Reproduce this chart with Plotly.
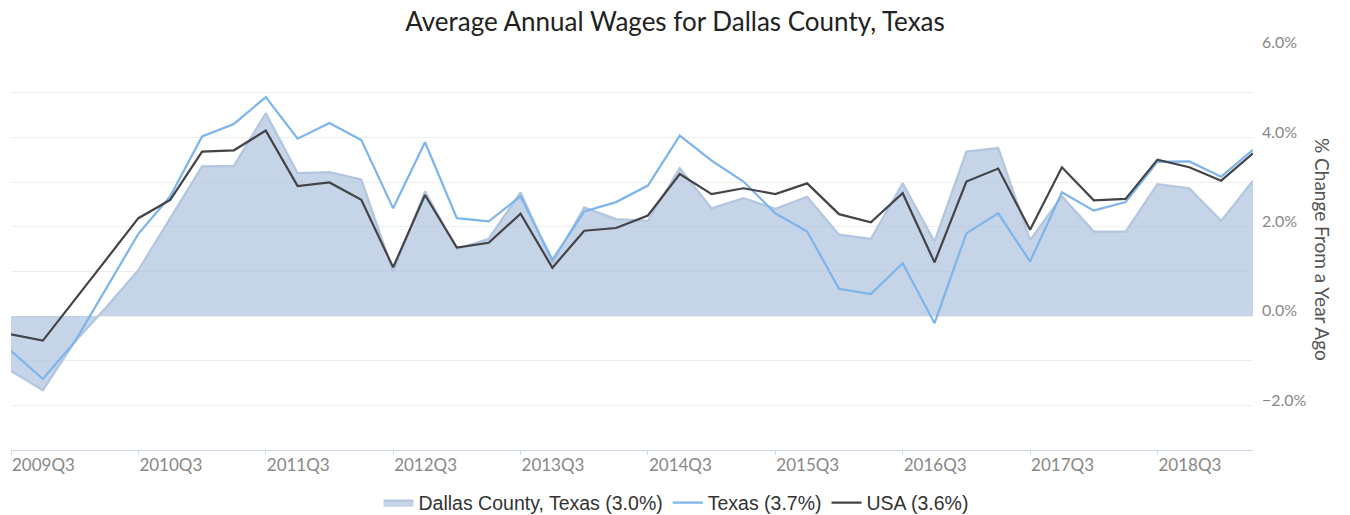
import plotly.graph_objects as go

quarters = []
for y in range(2009, 2020):
    for q in range(1, 5):
        lab = f"{y}Q{q}"
        if (y == 2009 and q < 3) or (y == 2019 and q > 2):
            continue
        quarters.append(lab)

dallas = [-1.23, -1.66, -0.58, 0.20, 1.03, 2.19, 3.35, 3.36, 4.54, 3.20,
          3.22, 3.06, 0.99, 2.79, 1.50, 1.73, 2.77, 1.18, 2.43, 2.17,
          2.13, 3.31, 2.41, 2.64, 2.40, 2.67, 1.82, 1.73, 2.97, 1.67,
          3.68, 3.76, 1.70, 2.68, 1.89, 1.89, 2.95, 2.86, 2.13, 3.03]
texas = [-0.78, -1.41, -0.58, 0.64, 1.84, 2.68, 4.02, 4.30, 4.90, 3.97,
         4.32, 3.94, 2.41, 3.89, 2.19, 2.12, 2.68, 1.26, 2.34, 2.55,
         2.92, 4.04, 3.48, 3.01, 2.30, 1.89, 0.61, 0.49, 1.18, -0.16,
         1.85, 2.30, 1.22, 2.77, 2.36, 2.55, 3.45, 3.46, 3.12, 3.72]
usa = [-0.41, -0.55, 0.36, 1.27, 2.19, 2.60, 3.68, 3.71, 4.15, 2.91,
       2.99, 2.60, 1.09, 2.71, 1.53, 1.64, 2.29, 1.08, 1.91, 1.97,
       2.25, 3.18, 2.73, 2.86, 2.73, 2.97, 2.28, 2.10, 2.75, 1.20,
       3.01, 3.30, 1.93, 3.33, 2.59, 2.62, 3.50, 3.33, 3.03, 3.64]

tick_labels = [q for q in quarters if q.endswith("Q3")]
names = ["Dallas County, Texas (3.0%)", "Texas (3.7%)", "USA (3.6%)"]

fig = go.Figure()
fig.add_trace(go.Scatter(x=quarters, y=dallas, name=names[0], mode="lines",
                         fill="tozeroy", fillcolor="rgba(176,196,222,0.72)",
                         line=dict(color="rgba(176,196,222,0.95)", width=2.2)))
fig.add_trace(go.Scatter(x=quarters, y=texas, name=names[1], mode="lines",
                         line=dict(color="#7cb5ec", width=2.2)))
fig.add_trace(go.Scatter(x=quarters, y=usa, name=names[2], mode="lines",
                         line=dict(color="#434348", width=2.2)))

fig.update_layout(
    width=1350, height=515,
    margin=dict(l=11, r=97, t=48, b=65, autoexpand=False),
    paper_bgcolor="white", plot_bgcolor="white",
    title=dict(text="Average Annual Wages for Dallas County, Texas",
               x=0.5, xref="container", y=1 - 22 / 515, yref="container",
               yanchor="middle", xanchor="center",
               font=dict(family="Lato", size=26, color="#222222")),
    font=dict(family="Lato"),
    showlegend=True,
    legend=dict(orientation="h", x=(676 - 11) / 1242, xanchor="center",
                y=(450 - 503) / 402, yanchor="middle",
                font=dict(family="Liberation Sans", size=19.5, color="#333333"),
                itemwidth=30, traceorder="normal"),
    xaxis=dict(type="category", range=[0, len(quarters) - 1], automargin=False,
               tickmode="array", tickvals=tick_labels, ticktext=tick_labels,
               ticklabelposition="outside right",
               showgrid=False, showline=True, linecolor="#ccd6eb", linewidth=1,
               ticks="outside", ticklen=4, tickcolor="#ccd6eb",
               tickfont=dict(family="Lato", size=17, color="#888888"),
               zeroline=False),
    yaxis=dict(side="right", range=[-3, 6], tick0=0, dtick=2, automargin=False,
               tickformat=".1f", ticksuffix="%",
               ticklabelposition="outside top", ticklabelshift=6,
               ticklabelstandoff=8,
               showgrid=True, gridcolor="#eeeeee", gridwidth=1,
               zeroline=False, showline=False, ticks="",
               tickfont=dict(family="Lato", size=16, color="#888888"),
               minor=dict(dtick=1, showgrid=True, gridcolor="#eeeeee", gridwidth=1)),
)

fig.add_annotation(text="% Change From a Year Ago", textangle=90,
                   xref="paper", yref="paper", x=(1323 - 11) / 1242, y=0.5,
                   xanchor="center", yanchor="middle", showarrow=False,
                   font=dict(family="Lato", size=19, color="#555555"))

fig.write_html("out.html", config={"displayModeBar": False},
               post_script="document.body.style.margin='0';document.body.style.padding='0';")
